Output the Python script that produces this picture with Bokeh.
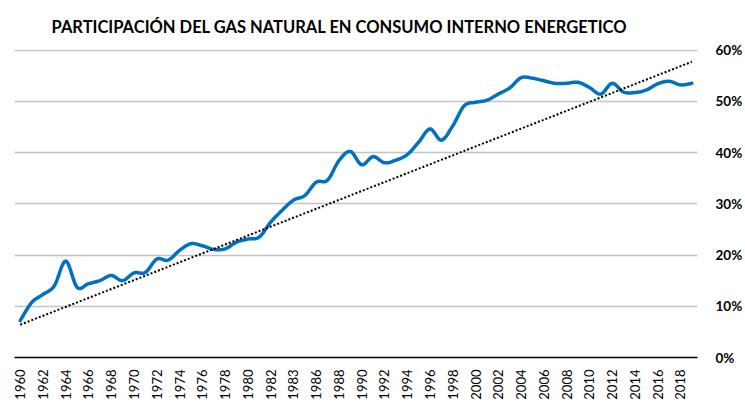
import numpy as np
from bokeh.plotting import figure
from bokeh.models import Range1d, FixedTicker, LinearAxis, PrintfTickFormatter
from bokeh.embed import file_html
from bokeh.resources import INLINE

# ---- data ----
years = list(range(1960, 2020))
gas_share = [7.2, 10.7, 12.3, 14.0, 18.8, 13.7, 14.4, 15.0, 16.0, 15.0,
             16.5, 16.6, 19.2, 19.0, 20.9, 22.2, 21.8, 21.1, 21.2, 22.5,
             23.1, 23.5, 26.4, 28.7, 30.7, 31.6, 34.2, 34.6, 38.4, 40.2,
             37.6, 39.2, 38.0, 38.5, 39.6, 42.0, 44.6, 42.4, 45.2, 49.1,
             49.8, 50.2, 51.4, 52.6, 54.6, 54.5, 54.0, 53.5, 53.5, 53.7,
             52.7, 51.4, 53.5, 51.8, 51.7, 52.2, 53.4, 53.9, 53.2, 53.5]
trend_years = [1960, 2019]
trend_values = [6.4, 57.7]
x_tick_labels = ["1960", "1962", "1964", "1966", "1968", "1970", "1972", "1974",
                 "1976", "1978", "1980", "1982", "1983", "1986", "1988", "1990",
                 "1992", "1994", "1996", "1998", "2000", "2002", "2004", "2006",
                 "2008", "2010", "2012", "2014", "2016", "2018"]
y_ticks = [0, 10, 20, 30, 40, 50, 60]
title_text = "PARTICIPACIÓN DEL GAS NATURAL EN CONSUMO INTERNO ENERGETICO"

idx = np.arange(len(years), dtype=float)
vals = np.array(gas_share, dtype=float)


def smooth(xs, ys, steps=12):
    # cubic Bezier smoothing through the points (like a spreadsheet "smoothed line")
    px = np.concatenate([[xs[0]], xs, [xs[-1]]])
    py = np.concatenate([[ys[0]], ys, [ys[-1]]])
    ox, oy = [], []
    t = np.linspace(0, 1, steps, endpoint=False)
    for i in range(1, len(px) - 2):
        p0x, p1x, p2x, p3x = px[i - 1], px[i], px[i + 1], px[i + 2]
        p0y, p1y, p2y, p3y = py[i - 1], py[i], py[i + 1], py[i + 2]
        c1x = p1x + (p2x - p0x) / 6.0
        c1y = p1y + (p2y - p0y) / 6.0
        c2x = p2x - (p3x - p1x) / 6.0
        c2y = p2y - (p3y - p1y) / 6.0
        b0 = (1 - t) ** 3
        b1 = 3 * (1 - t) ** 2 * t
        b2 = 3 * (1 - t) * t ** 2
        b3 = t ** 3
        ox.extend(b0 * p1x + b1 * c1x + b2 * c2x + b3 * p2x)
        oy.extend(b0 * p1y + b1 * c1y + b2 * c2y + b3 * p2y)
    ox.append(xs[-1])
    oy.append(ys[-1])
    return ox, oy


sx, sy = smooth(idx, vals)
trend_x = [years.index(y) for y in trend_years]

FONT = "Lato"

p = figure(width=745, height=402, output_backend="svg", toolbar_location=None,
           x_range=Range1d(-0.5, len(years) - 0.5), y_range=Range1d(0, 60.1),
           y_axis_location=None, min_border_left=14, min_border_right=45,
           min_border_top=49, min_border_bottom=45)
p.outline_line_color = None
p.background_fill_color = "white"

p.title.text = title_text
p.title.text_font = FONT
p.title.text_font_style = "bold"
p.title.text_font_size = "16.5px"
p.title.text_color = "black"
p.title.align = "left"
p.title.offset = 37
p.title.standoff = 26

# x axis
xa = p.xaxis[0]
xa.ticker = FixedTicker(ticks=list(range(0, len(years), 2)))
xa.major_label_overrides = {i * 2: lab for i, lab in enumerate(x_tick_labels)}
xa.major_label_orientation = np.pi / 2
xa.major_label_text_font = FONT
xa.major_label_text_font_size = "13px"
xa.major_label_text_color = "black"
xa.major_label_standoff = 6
xa.axis_line_color = "black"
xa.axis_line_width = 1.5
xa.major_tick_line_color = None
xa.minor_tick_line_color = None
p.xgrid.grid_line_color = None

# y axis on right
ya = LinearAxis(ticker=FixedTicker(ticks=y_ticks), formatter=PrintfTickFormatter(format="%d%%"))
ya.axis_line_color = None
ya.major_tick_line_color = None
ya.minor_tick_line_color = None
ya.major_label_text_font = FONT
ya.major_label_text_font_style = "bold"
ya.major_label_text_font_size = "13.5px"
ya.major_label_text_color = "black"
ya.major_label_standoff = 12
p.add_layout(ya, "right")
p.ygrid.ticker = FixedTicker(ticks=y_ticks)
p.ygrid.grid_line_color = "#c4c4c4"
p.ygrid.grid_line_width = 1.4

p.line(sx, sy, line_color="#0070C0", line_width=3.5, line_join="round", line_cap="round")
p.line(trend_x, trend_values, line_color="black", line_width=2, line_dash="2 2")

open("out.html", "w").write(file_html(p, INLINE))
